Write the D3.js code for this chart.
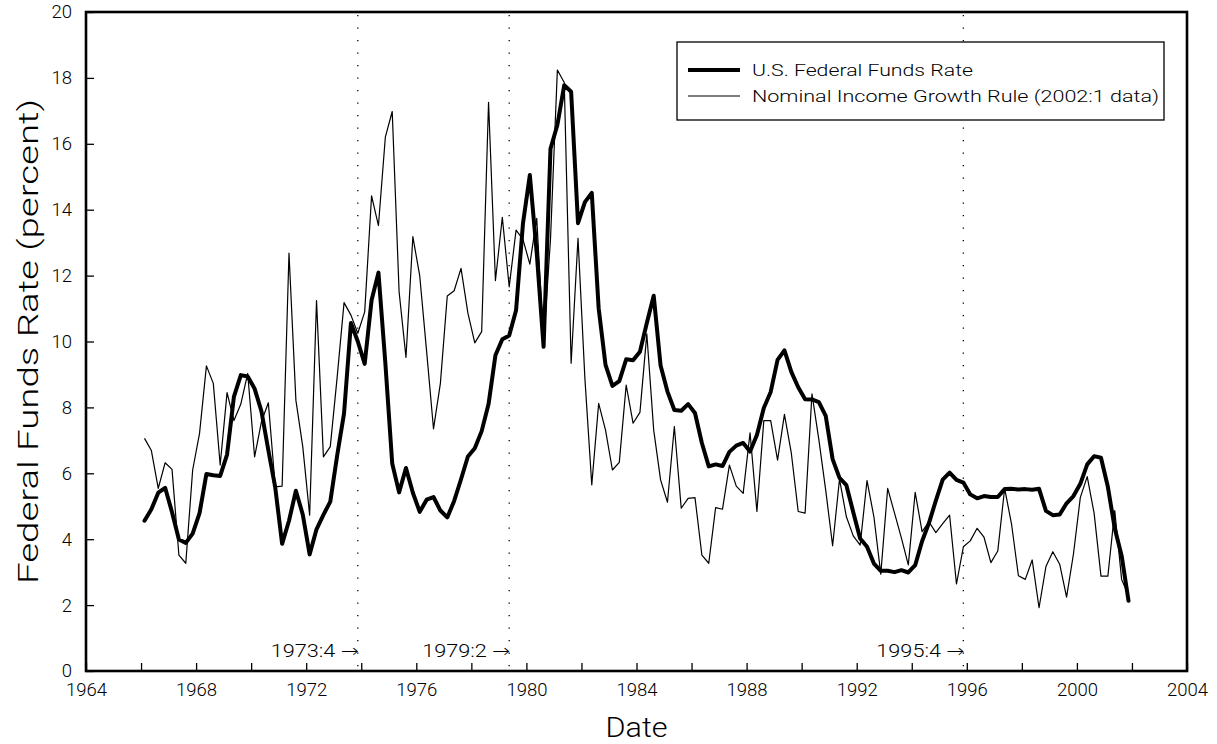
<!DOCTYPE html>
<html>
<head>
<meta charset="utf-8">
<script src="https://cdn.jsdelivr.net/npm/d3@7"></script>
<style>
  html, body { margin: 0; padding: 0; background: #fff; }
  svg text { font-family: Roboto, "DejaVu Sans", sans-serif; font-weight: 300; fill: #000; }
</style>
</head>
<body>
<svg id="chart" width="1217" height="744"></svg>
<script>
// ---- data (quarterly, 1966:1 .. 2001:4) ----
const years = d3.range(1966, 2002);
const quarters = [1, 2, 3, 4];

const fedFundsRate = [
  4.56, 4.91, 5.41, 5.56,   4.82, 3.99, 3.89, 4.17,   4.79, 5.98, 5.94, 5.92,
  6.57, 8.33, 8.98, 8.94,   8.57, 7.88, 6.70, 5.57,   3.86, 4.56, 5.47, 4.75,
  3.54, 4.30, 4.74, 5.14,   6.54, 7.82, 10.56, 10.00, 9.32, 11.25, 12.09, 9.35,
  6.30, 5.42, 6.16, 5.41,   4.83, 5.20, 5.28, 4.87,   4.66, 5.16, 5.82, 6.51,
  6.76, 7.28, 8.10, 9.58,   10.07, 10.18, 10.95, 13.58, 15.05, 12.69, 9.84, 15.85,
  16.57, 17.78, 17.58, 13.59, 14.23, 14.51, 11.01, 9.29, 8.65, 8.80, 9.46, 9.43,
  9.69, 10.56, 11.39, 9.27, 8.48, 7.92, 7.90, 8.10,   7.83, 6.92, 6.21, 6.27,
  6.22, 6.65, 6.84, 6.92,   6.66, 7.16, 7.98, 8.47,   9.44, 9.73, 9.08, 8.61,
  8.25, 8.24, 8.16, 7.74,   6.43, 5.86, 5.64, 4.82,   4.02, 3.77, 3.26, 3.04,
  3.04, 3.00, 3.06, 2.99,   3.21, 3.94, 4.49, 5.17,   5.81, 6.02, 5.80, 5.72,
  5.36, 5.24, 5.31, 5.28,   5.28, 5.52, 5.53, 5.51,   5.52, 5.50, 5.53, 4.86,
  4.73, 4.75, 5.09, 5.31,   5.68, 6.27, 6.52, 6.47,   5.59, 4.33, 3.50, 2.13
];

const nominalIncomeRule = [
  7.06, 6.69, 5.54, 6.32,   6.12, 3.52, 3.27, 6.10,   7.21, 9.26, 8.73, 6.25,
  8.45, 7.60, 8.10, 9.03,   6.50, 7.57, 8.14, 5.59,   5.61, 12.68, 8.22, 6.81,
  4.73, 11.24, 6.50, 6.81,  8.92, 11.18, 10.80, 10.25, 10.90, 14.42, 13.52, 16.20,
  16.98, 11.51, 9.52, 13.18, 11.99, 9.70, 7.35, 8.73, 11.38, 11.54, 12.22, 10.86,
  9.96, 10.30, 17.26, 11.85, 13.77, 11.66, 13.38, 13.10, 12.35, 13.74, 9.95, 13.10,
  18.24, 17.86, 9.34, 13.13, 8.88, 5.65, 8.12, 7.31,  6.10, 6.33, 8.68, 7.52,
  7.85, 10.23, 7.31, 5.80,  5.12, 7.42, 4.94, 5.24,   5.26, 3.52, 3.27, 4.96,
  4.91, 6.25, 5.61, 5.39,   7.23, 4.84, 7.60, 7.60,   6.40, 7.79, 6.61, 4.84,
  4.79, 8.41, 7.02, 5.48,   3.80, 5.82, 4.68, 4.10,   3.82, 5.78, 4.68, 2.94,
  5.54, 4.79, 4.03, 3.22,   5.42, 4.23, 4.53, 4.20,   4.47, 4.73, 2.64, 3.77,
  3.95, 4.33, 4.06, 3.29,   3.64, 5.54, 4.46, 2.89,   2.78, 3.37, 1.92, 3.17,
  3.62, 3.24, 2.24, 3.55,   5.27, 5.90, 4.79, 2.88,   2.88, 4.87, 2.78, 2.30
];

const xTickValues = d3.range(1964, 2005, 2);
const xTickLabels = d3.range(1964, 2005, 4);
const yTickValues = d3.range(0, 21, 2);
const eventLabels = ["1973:4", "1979:2", "1995:4"];
const seriesNames = ["U.S. Federal Funds Rate", "Nominal Income Growth Rule (2002:1 data)"];

// ---- helpers ----
// "YYYY:Q" -> decimal date at middle of the quarter
const quarterDate = (yr, q) => yr + (q - 0.5) / 4;
const parseQuarter = s => { const [yr, q] = s.split(":").map(Number); return quarterDate(yr, q); };
const dates = [];
years.forEach(yr => quarters.forEach(q => dates.push(quarterDate(yr, q))));

// ---- layout ----
const svg = d3.select("#chart");
const pL = 86, pR = 1187, pT = 12, pB = 671;

const x = d3.scaleLinear().domain([1964, 2004]).range([pL, pR]);
const y = d3.scaleLinear().domain([0, 20]).range([pB, pT]);

// event dotted lines
const ev = svg.append("g");
eventLabels.forEach(lbl => {
  const t = parseQuarter(lbl);
  ev.append("line")
    .attr("x1", x(t)).attr("x2", x(t))
    .attr("y1", pT + 3).attr("y2", pB)
    .attr("stroke", "#000").attr("stroke-width", 1.3)
    .attr("stroke-dasharray", "1.3 11.2");
  ev.append("text")
    .attr("x", x(t) + 1).attr("y", 657)
    .attr("text-anchor", "end")
    .attr("font-size", 18)
    .attr("textLength", 88).attr("lengthAdjust", "spacingAndGlyphs")
    .text(lbl + " \u2192");
});

// lines
const line = d3.line()
  .x((d, i) => x(dates[i]))
  .y(d => y(d));

svg.append("path")
  .datum(nominalIncomeRule)
  .attr("fill", "none").attr("stroke", "#000")
  .attr("stroke-width", 1.2).attr("stroke-linejoin", "round")
  .attr("d", line);

svg.append("path")
  .datum(fedFundsRate)
  .attr("fill", "none").attr("stroke", "#000")
  .attr("stroke-width", 4).attr("stroke-linejoin", "round")
  .attr("stroke-linecap", "round")
  .attr("d", line);

// axes
const xAxis = d3.axisBottom(x)
  .tickValues(xTickValues)
  .tickSize(-8)
  .tickPadding(12)
  .tickFormat(d => xTickLabels.includes(d) ? String(d) : "");
const gx = svg.append("g").attr("transform", `translate(0,${pB})`).call(xAxis);
gx.select(".domain").remove();
gx.selectAll(".tick line").attr("stroke-width", 1.3);
gx.selectAll("text").attr("font-size", 18.5).attr("font-family", null);

const yAxis = d3.axisLeft(y)
  .tickValues(yTickValues)
  .tickSize(-8)
  .tickPadding(14)
  .tickFormat(d => String(d));
const gy = svg.append("g").attr("transform", `translate(${pL},0)`).call(yAxis);
gy.select(".domain").remove();
gy.selectAll(".tick line").attr("stroke-width", 1.3);
gy.selectAll("text").attr("font-size", 18.5).attr("font-family", null);

// frame
svg.append("rect")
  .attr("x", pL).attr("y", pT)
  .attr("width", pR - pL).attr("height", pB - pT)
  .attr("fill", "none").attr("stroke", "#000").attr("stroke-width", 2.6);

// axis titles
svg.append("text")
  .attr("x", (pL + pR) / 2).attr("y", 737)
  .attr("text-anchor", "middle")
  .attr("font-size", 28)
  .attr("textLength", 62).attr("lengthAdjust", "spacingAndGlyphs")
  .text("Date");

svg.append("text")
  .attr("transform", `translate(38,${(pT + pB) / 2}) rotate(-90)`)
  .attr("text-anchor", "middle")
  .attr("font-size", 27)
  .attr("textLength", 485).attr("lengthAdjust", "spacingAndGlyphs")
  .text("Federal Funds Rate (percent)");

// legend
const lg = svg.append("g");
lg.append("rect")
  .attr("x", 677).attr("y", 42).attr("width", 487).attr("height", 78)
  .attr("fill", "#fff").attr("stroke", "#000").attr("stroke-width", 1.3);
const legendRows = [
  { name: seriesNames[0], w: 4, y: 70, len: 221 },
  { name: seriesNames[1], w: 1.2, y: 96, len: 407 }
];
legendRows.forEach(r => {
  lg.append("line")
    .attr("x1", 688).attr("x2", 740).attr("y1", r.y).attr("y2", r.y)
    .attr("stroke", "#000").attr("stroke-width", r.w);
  lg.append("text")
    .attr("x", 752).attr("y", r.y).attr("dy", "0.36em")
    .attr("font-size", 16)
    .attr("textLength", r.len).attr("lengthAdjust", "spacingAndGlyphs")
    .text(r.name);
});
</script>
</body>
</html>
